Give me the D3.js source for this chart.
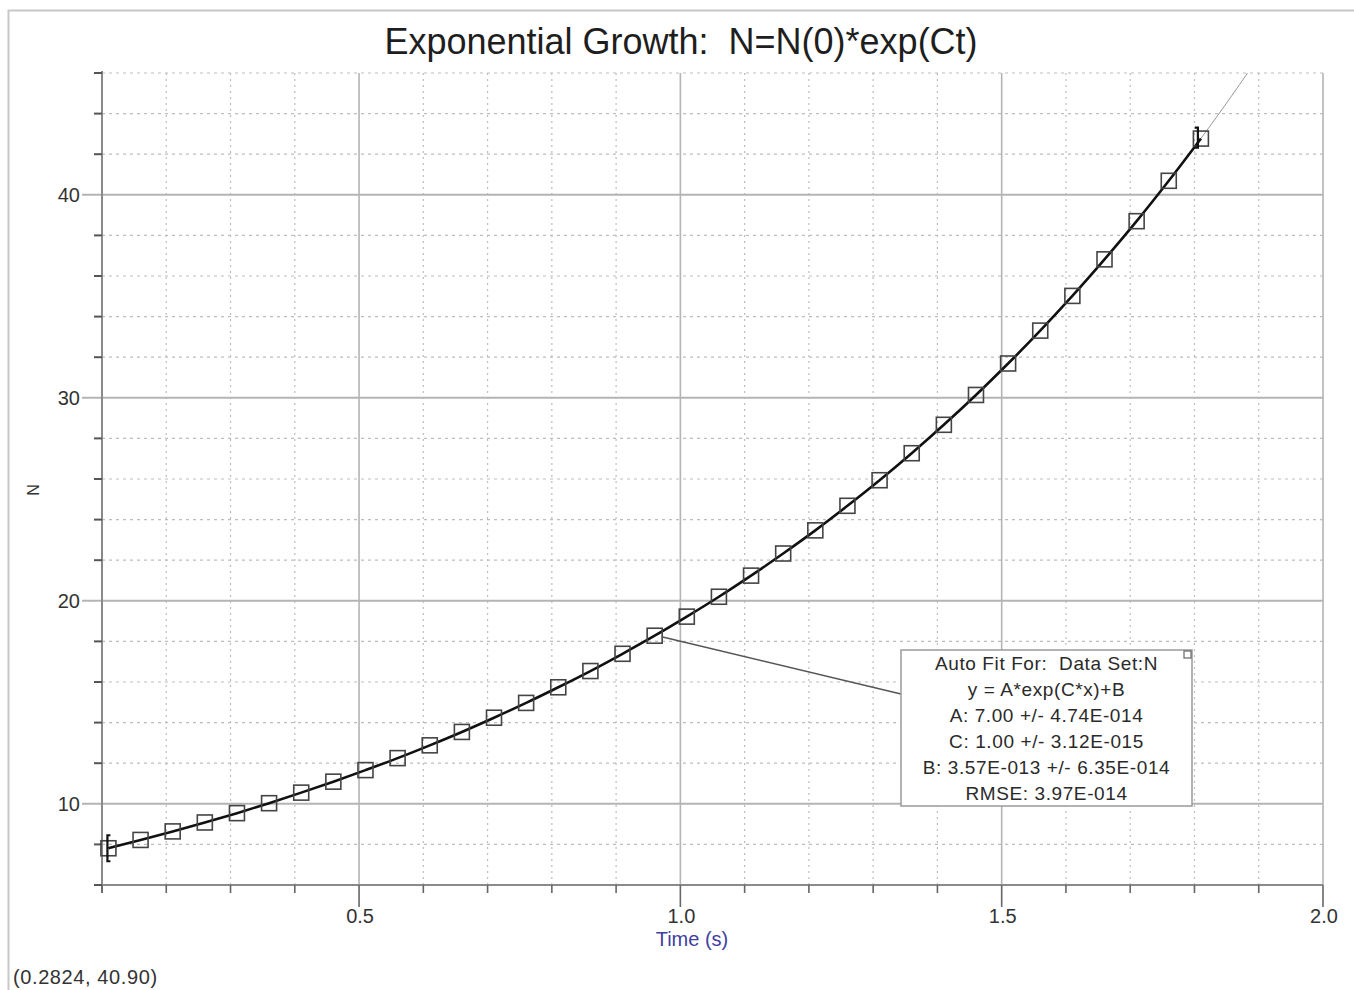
<!DOCTYPE html>
<html><head><meta charset="utf-8">
<script src="https://cdn.jsdelivr.net/npm/d3@7"></script>
<style>
html,body{margin:0;padding:0;background:#fff;}
svg{display:block;font-family:"Liberation Sans",Arial,sans-serif;}
text{white-space:pre;}
</style></head>
<body><svg id="c" width="1354" height="990"></svg>
<script>
// ---- data ----
const timeS = [0.11,0.16,0.21,0.26,0.31,0.36,0.41,0.46,0.51,0.56,0.61,0.66,0.71,0.76,0.81,0.86,0.91,0.96,1.01,1.06,1.11,1.16,1.21,1.26,1.31,1.36,1.41,1.46,1.51,1.56,1.61,1.66,1.71,1.76,1.81];
const valuesN = [7.81,8.22,8.64,9.08,9.54,10.03,10.55,11.09,11.66,12.25,12.88,13.54,14.24,14.97,15.74,16.54,17.39,18.28,19.22,20.20,21.24,22.33,23.47,24.68,25.94,27.27,28.67,30.14,31.69,33.31,35.02,36.82,38.70,40.69,42.77];
const fitExtT = [1.81,1.85,1.89];
const fitExtN = [42.77,44.52,46.34];
const xMajorTicks = [0.5,1.0,1.5,2.0];
const xMinorTicks = [0.1,0.2,0.3,0.4,0.5,0.6,0.7,0.8,0.9,1.0,1.1,1.2,1.3,1.4,1.5,1.6,1.7,1.8,1.9,2.0];
const yMajorTicks = [10,20,30,40];
const yMinorTicks = [6,8,10,12,14,16,18,20,22,24,26,28,30,32,34,36,38,40,42,44,46];
const fitLines = ["Auto Fit For:  Data Set:N","y = A*exp(C*x)+B","A: 7.00 +/- 4.74E-014","C: 1.00 +/- 3.12E-015","B: 3.57E-013 +/- 6.35E-014","RMSE: 3.97E-014"];
const labelPointIndex = 17;

const svg = d3.select("#c");
const L=102, R=1323, T=73, B=885;
const x = d3.scaleLinear().domain([0.1,2.0]).range([L,R]);
const y = d3.scaleLinear().domain([6,46]).range([B,T]);

// outer frame
svg.append("path").attr("d","M8.5,990 V10.5 H1354").attr("fill","none").attr("stroke","#c8c8c8").attr("stroke-width",2);

// title
svg.append("text").attr("x",681).attr("y",54).attr("text-anchor","middle")
  .attr("font-size",36).attr("fill","#1e1e1e").text("Exponential Growth:  N=N(0)*exp(Ct)");

const g = svg.append("g");
// minor grid
g.selectAll(".vmin").data(xMinorTicks.filter(d=>!xMajorTicks.includes(d) && d>0.1)).join("line")
  .attr("x1",d=>x(d)).attr("x2",d=>x(d)).attr("y1",T).attr("y2",B)
  .attr("stroke","#bdbdbd").attr("stroke-width",1.2).attr("stroke-dasharray","2,4");
g.selectAll(".hmin").data(yMinorTicks.filter(d=>!yMajorTicks.includes(d) && d>6)).join("line")
  .attr("x1",L).attr("x2",R).attr("y1",d=>y(d)).attr("y2",d=>y(d))
  .attr("stroke","#bdbdbd").attr("stroke-width",1.2).attr("stroke-dasharray","3,4");
// major grid
g.selectAll(".vmaj").data(xMajorTicks).join("line")
  .attr("x1",d=>x(d)).attr("x2",d=>x(d)).attr("y1",T).attr("y2",B)
  .attr("stroke","#b4b4b4").attr("stroke-width",1.6);
g.selectAll(".hmaj").data(yMajorTicks).join("line")
  .attr("x1",L-20).attr("x2",R).attr("y1",d=>y(d)).attr("y2",d=>y(d))
  .attr("stroke","#b4b4b4").attr("stroke-width",2);

// axes lines
g.append("line").attr("x1",L).attr("x2",L).attr("y1",T-2).attr("y2",B+8).attr("stroke","#8a8a8a").attr("stroke-width",2);
g.append("line").attr("x1",L-8).attr("x2",R).attr("y1",B).attr("y2",B).attr("stroke","#8a8a8a").attr("stroke-width",2);
// x ticks
g.selectAll(".xt").data(xMinorTicks).join("line")
  .attr("x1",d=>x(d)).attr("x2",d=>x(d)).attr("y1",B).attr("y2",d=>B+(xMajorTicks.includes(d)?22:8))
  .attr("stroke","#666").attr("stroke-width",1.6);
// y minor ticks
g.selectAll(".yt").data(yMinorTicks.filter(d=>!yMajorTicks.includes(d))).join("line")
  .attr("x1",L-8).attr("x2",L).attr("y1",d=>y(d)).attr("y2",d=>y(d))
  .attr("stroke","#555").attr("stroke-width",2);

// tick labels
g.selectAll(".xl").data(xMajorTicks).join("text")
  .attr("x",d=>x(d)+1).attr("y",B+38).attr("text-anchor","middle").attr("font-size",20).attr("fill","#333")
  .text(d=>d3.format(".1f")(d));
g.selectAll(".yl").data(yMajorTicks).join("text")
  .attr("x",L-22).attr("y",d=>y(d)+7).attr("text-anchor","end").attr("font-size",20).attr("fill","#333")
  .text(d=>d);

// axis titles
svg.append("text").attr("x",692).attr("y",946).attr("text-anchor","middle").attr("font-size",20).attr("fill","#4040a0").text("Time (s)");
svg.append("text").attr("transform","translate(39,490) rotate(-90)").attr("text-anchor","middle").attr("font-size",16).attr("fill","#333").text("N");

// fit extension line
svg.append("clipPath").attr("id","pc").append("rect").attr("x",L).attr("y",T).attr("width",R-L).attr("height",B-T);
svg.append("path").attr("clip-path","url(#pc)")
  .datum(fitExtT.map((t,i)=>[t,fitExtN[i]]))
  .attr("d",d3.line().x(d=>x(d[0])).y(d=>y(d[1])).curve(d3.curveMonotoneX))
  .attr("fill","none").attr("stroke","#9a9a9a").attr("stroke-width",1);

const pts = timeS.map((t,i)=>[t,valuesN[i]]);
// data/fit line
svg.append("path").datum(pts)
  .attr("d",d3.line().x(d=>x(d[0])).y(d=>y(d[1])).curve(d3.curveMonotoneX))
  .attr("fill","none").attr("stroke","#111").attr("stroke-width",2.6);

// markers
svg.selectAll(".m").data(pts).join("rect")
  .attr("x",d=>x(d[0])-7.5).attr("y",d=>y(d[1])-7.5).attr("width",15).attr("height",15)
  .attr("fill","none").attr("stroke","#444").attr("stroke-width",1.6);

// range brackets
const p0 = pts[0], pN = pts[pts.length-1];
svg.append("path").attr("d",`M${x(p0[0])+2},${y(p0[1])-13} h-3 v26 h3`).attr("fill","none").attr("stroke","#111").attr("stroke-width",2.2);
svg.append("path").attr("d",`M${x(pN[0])-6},${y(pN[1])-11} h3 v20 h-3`).attr("fill","none").attr("stroke","#111").attr("stroke-width",2.2);

// annotation box
const bx=901, by=650, bw=291, bh=156;
const lp = pts[labelPointIndex];
svg.append("line").attr("x1",x(lp[0])+7).attr("y1",y(lp[1])+1).attr("x2",bx).attr("y2",694)
  .attr("stroke","#555").attr("stroke-width",1.4);
svg.append("rect").attr("x",bx).attr("y",by).attr("width",bw).attr("height",bh)
  .attr("fill","#fff").attr("stroke","#9a9a9a").attr("stroke-width",1.5);
svg.append("rect").attr("x",bx+bw-8).attr("y",by+1).attr("width",7).attr("height",7)
  .attr("fill","#fff").attr("stroke","#666").attr("stroke-width",1.2);
svg.selectAll(".ft").data(fitLines).join("text")
  .attr("x",bx+bw/2).attr("y",(d,i)=>by+20+i*26).attr("text-anchor","middle")
  .attr("font-size",19).attr("fill","#2a2a2a").attr("letter-spacing","0.6").text(d=>d);

// cursor readout
svg.append("text").attr("x",13).attr("y",984).attr("font-size",20).attr("fill","#333").attr("letter-spacing","0.6").text("(0.2824, 40.90)");
</script></body></html>
